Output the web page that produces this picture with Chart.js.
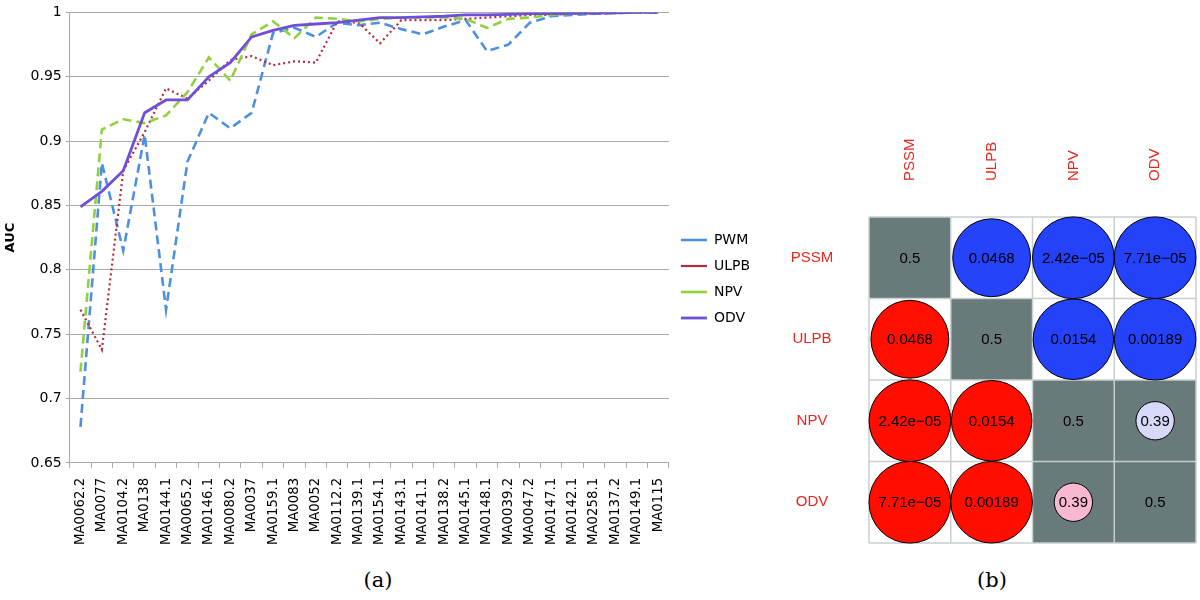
<!DOCTYPE html>
<html lang="en">
<head>
  <meta charset="UTF-8">
  <title>AUC per motif and p-value matrix</title>
  <style>
    body { margin: 0; background: #fff; }
    .figure { position: relative; width: 1200px; height: 600px; }
    .panel { position: absolute; top: 0; }
    .cap {
      position: absolute;
      top: 566px;
      width: 60px;
      text-align: center;
      font-family: 'DejaVu Serif', serif;
      font-size: 21px;
      line-height: 28px;
    }
  </style>
  <script src="https://cdn.jsdelivr.net/npm/chart.js@4.4.6/dist/chart.umd.min.js"></script>
</head>
<body>
<div class="figure">
  <div class="panel" style="left:0px"><canvas id="aucChart" width="760" height="555"></canvas></div>
  <div class="panel" style="left:770px"><canvas id="pvalChart" width="430" height="560"></canvas></div>
  <div class="cap" style="left:348px">(a)</div>
  <div class="cap" style="left:962px">(b)</div>
</div>
<script>
// panel (a): AUC of each motif for the four scoring methods
const motifs = ['MA0062.2', 'MA0077', 'MA0104.2', 'MA0138', 'MA0144.1', 'MA0065.2', 'MA0146.1',
  'MA0080.2', 'MA0037', 'MA0159.1', 'MA0083', 'MA0052', 'MA0112.2', 'MA0139.1', 'MA0154.1',
  'MA0143.1', 'MA0141.1', 'MA0138.2', 'MA0145.1', 'MA0148.1', 'MA0039.2', 'MA0047.2',
  'MA0147.1', 'MA0142.1', 'MA0258.1', 'MA0137.2', 'MA0149.1', 'MA0115'];

const aucPWM  = [0.678, 0.883, 0.815, 0.905, 0.769, 0.884, 0.922, 0.910, 0.922, 0.984, 0.988, 0.981, 0.992, 0.990,
                 0.992, 0.987, 0.983, 0.989, 0.994, 0.970, 0.975, 0.992, 0.997, 0.998, 0.999, 0.9995, 1.0, 1.0];
const aucULPB = [0.769, 0.738, 0.877, 0.907, 0.941, 0.933, 0.947, 0.963, 0.966, 0.959, 0.962, 0.961, 0.993, 0.992,
                 0.976, 0.994, 0.994, 0.994, 0.995, 0.996, 0.997, 0.998, 0.998, 0.999, 0.999, 0.9995, 1.0, 1.0];
const aucNPV  = [0.721, 0.909, 0.917, 0.914, 0.920, 0.938, 0.965, 0.947, 0.983, 0.993, 0.980, 0.996, 0.995, 0.993,
                 0.995, 0.996, 0.996, 0.996, 0.995, 0.988, 0.995, 0.996, 0.998, 0.999, 0.9995, 1.0, 1.0, 1.0];
const aucODV  = [0.849, 0.861, 0.877, 0.922, 0.932, 0.932, 0.950, 0.961, 0.981, 0.986, 0.990, 0.991, 0.992, 0.994,
                 0.996, 0.996, 0.9965, 0.997, 0.998, 0.998, 0.9985, 0.999, 0.999, 0.9993, 0.9995, 0.9997, 1.0, 1.0];

// panel (b): pairwise p-values between methods
const methods = ['PSSM', 'ULPB', 'NPV', 'ODV'];
const pValues = [
  [0.5,     0.0468,  2.42e-5, 7.71e-5],
  [0.0468,  0.5,     0.0154,  0.00189],
  [2.42e-5, 0.0154,  0.5,     0.39],
  [7.71e-5, 0.00189, 0.39,    0.5]
];

const axisGray = '#a4abab';
const sans = 'DejaVu Sans';

var aucChart = new Chart(document.getElementById('aucChart'), {
  type: 'line',
  data: {
    labels: motifs,
    datasets: [
      { label: 'PWM',  data: aucPWM,  borderColor: '#4d90e2', borderWidth: 2.6, borderDash: [9, 5], order: 3 },
      { label: 'ULPB', data: aucULPB, borderColor: '#b32c3c', borderWidth: 2.2, borderDash: [2, 3], order: 2 },
      { label: 'NPV',  data: aucNPV,  borderColor: '#92d13e', borderWidth: 2.6, borderDash: [9, 5], order: 1 },
      { label: 'ODV',  data: aucODV,  borderColor: '#6d4fd9', borderWidth: 2.8, order: 0 },
    ]
  },
  options: {
    responsive: false,
    animation: false,
    events: [],
    elements: { point: { radius: 0 }, line: { tension: 0, fill: false } },
    layout: { padding: { left: 3, top: 3, right: 0, bottom: 0 } },
    plugins: {
      tooltip: { enabled: false },
      legend: {
        position: 'right',
        labels: {
          usePointStyle: true,
          pointStyle: 'line',
          pointStyleWidth: 26,
          padding: 12,
          color: '#000',
          font: { family: sans, size: 14 },
          sort: (a, b) => a.datasetIndex - b.datasetIndex,
        }
      }
    },
    scales: {
      x: {
        offset: true,
        grid: { drawOnChartArea: false, tickLength: 5, color: axisGray, offset: true },
        border: { color: axisGray },
        ticks: { minRotation: 90, maxRotation: 90, autoSkip: false, padding: 10, color: '#000',
                 font: { family: sans, size: 13.3 } },
      },
      y: {
        min: 0.65,
        max: 1,
        grid: { color: axisGray, tickLength: 4 },
        border: { color: axisGray },
        ticks: {
          stepSize: 0.05, padding: 4, color: '#000',
          font: { family: sans, size: 14 },
          callback: v => String(Number(v.toFixed(2))),
        },
        title: { display: true, text: 'AUC', color: '#000', padding: { top: 0, bottom: 8 },
                 font: { family: sans, size: 13, weight: 'bold' } },
      }
    }
  }
});

// p-value matrix drawn as a scatter chart, one point per cell
const pvCells = [];
pValues.forEach((row, r) => row.forEach((p, c) => pvCells.push({ x: c, y: r, p: p })));

function pText(p) {
  if (p < 1e-4) return p.toExponential(2).replace(/e-(\d)$/, 'e\u221205');
  return String(p);
}

function cellSize(chart) {
  const a = chart.chartArea;
  return { w: (a.right - a.left) / methods.length, h: (a.bottom - a.top) / methods.length };
}

// white -> mid -> full colour ramps, blue above the diagonal, red below
const blueRamp = [[255, 255, 255], [174, 174, 240], [36, 66, 250]];
const redRamp  = [[255, 255, 255], [240, 108, 158], [255, 14, 0]];

function cellColor(c) {
  const t = Math.min(1, Math.abs(1 - 2 * c.raw.p) * 1.1);
  const ramp = c.raw.x > c.raw.y ? blueRamp : redRamp;
  const lo = t < 0.5 ? ramp[0] : ramp[1], hi = t < 0.5 ? ramp[1] : ramp[2];
  const f = t < 0.5 ? t / 0.5 : (t - 0.5) / 0.5;
  const mix = lo.map((v, i) => Math.round(v + (hi[i] - v) * f));
  return 'rgb(' + mix.join(',') + ')';
}

const labelRed = '#e5281f';
const labelFont = '15px "Liberation Sans"';

const cellPlugin = {
  id: 'cells',
  beforeDatasetsDraw(chart) {
    const { ctx, chartArea: a, scales: { x, y } } = chart;
    const { w, h } = cellSize(chart);
    ctx.save();
    pvCells.forEach(cell => {
      if (cell.p > 0.05) {
        ctx.fillStyle = '#687a7a';
        ctx.fillRect(x.getPixelForValue(cell.x) - w / 2, y.getPixelForValue(cell.y) - h / 2, w, h);
      }
    });
    ctx.strokeStyle = '#c8cfcf';
    ctx.lineWidth = 1.5;
    ctx.beginPath();
    for (let i = 0; i <= methods.length; i++) {
      const px = x.getPixelForValue(i - 0.5), py = y.getPixelForValue(i - 0.5);
      ctx.moveTo(px, a.top); ctx.lineTo(px, a.bottom);
      ctx.moveTo(a.left, py); ctx.lineTo(a.right, py);
    }
    ctx.stroke();

    // method names: rotated above the columns, centred left of the rows
    ctx.fillStyle = labelRed;
    ctx.font = labelFont;
    methods.forEach((m, i) => {
      ctx.save();
      ctx.translate(x.getPixelForValue(i), a.top - 36);
      ctx.rotate(-Math.PI / 2);
      ctx.textAlign = 'left';
      ctx.textBaseline = 'middle';
      ctx.fillText(m, 0, 0);
      ctx.restore();
      ctx.textAlign = 'center';
      ctx.textBaseline = 'middle';
      ctx.fillText(m, a.left - 57, y.getPixelForValue(i));
    });
    ctx.restore();
  },
  afterDatasetsDraw(chart) {
    const { ctx, scales: { x, y } } = chart;
    ctx.save();
    ctx.fillStyle = '#000';
    ctx.font = labelFont;
    ctx.textAlign = 'center';
    ctx.textBaseline = 'middle';
    pvCells.forEach(cell => {
      ctx.fillText(pText(cell.p), x.getPixelForValue(cell.x), y.getPixelForValue(cell.y) + 1);
    });
    ctx.restore();
  }
};

var pvalChart = new Chart(document.getElementById('pvalChart'), {
  type: 'scatter',
  data: {
    datasets: [{
      data: pvCells,
      clip: false,
      pointBorderColor: '#000',
      pointBorderWidth: 1,
      pointBackgroundColor: cellColor,
      pointRadius: c => {
        if (!c.chart.chartArea || !c.raw) return 0;
        const { w } = cellSize(c.chart);
        return w / 2 * Math.sqrt(Math.abs(1 - 2 * c.raw.p));
      },
    }]
  },
  options: {
    responsive: false,
    animation: false,
    events: [],
    layout: { padding: { left: 99, right: 4, top: 217, bottom: 17 } },
    plugins: { legend: { display: false }, tooltip: { enabled: false } },
    scales: {
      x: { type: 'linear', display: false, min: -0.5, max: 3.5 },
      y: { type: 'linear', display: false, reverse: true, min: -0.5, max: 3.5 }
    }
  },
  plugins: [cellPlugin]
});
</script>
</body>
</html>
